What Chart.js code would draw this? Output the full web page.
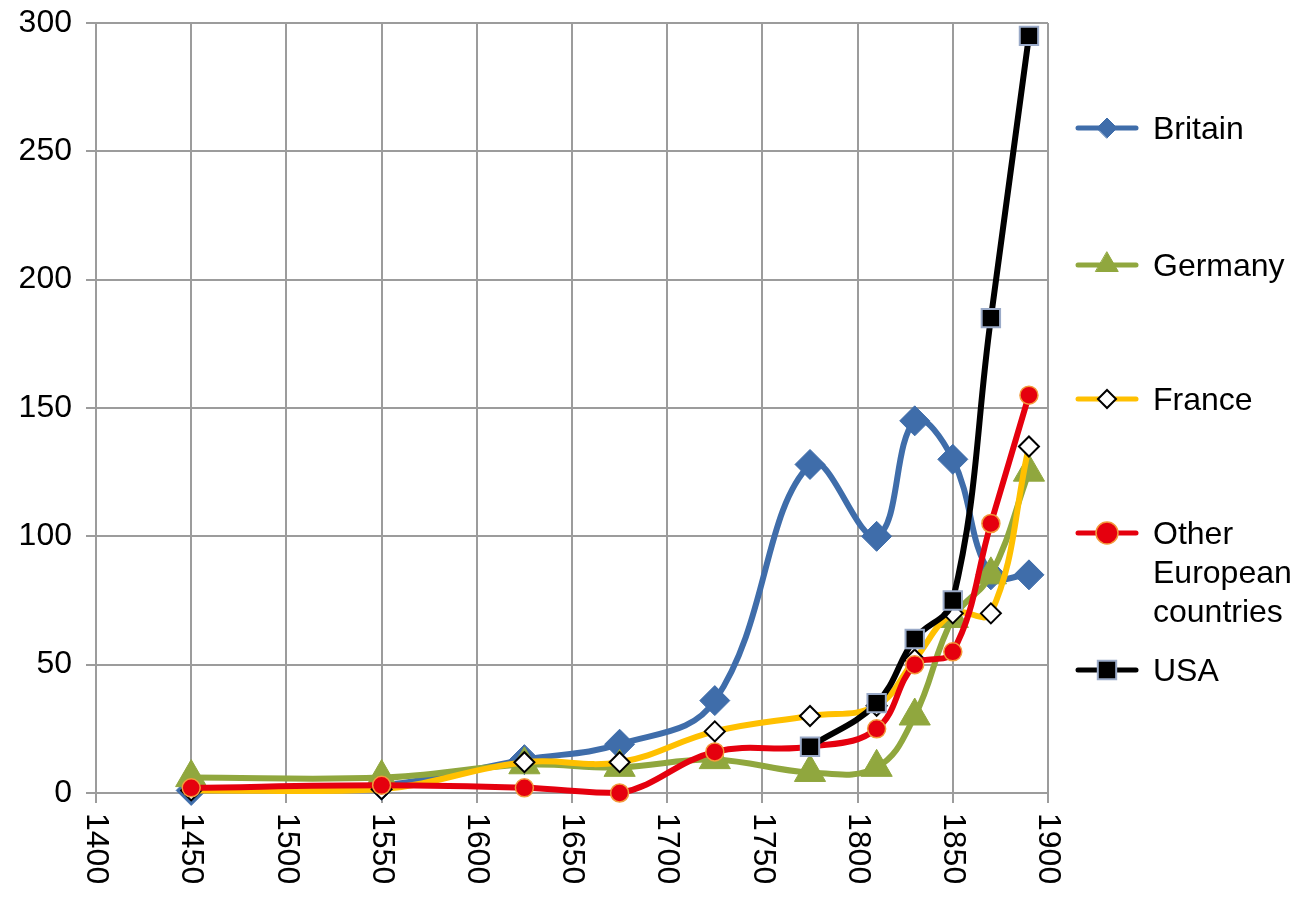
<!DOCTYPE html>
<html>
<head>
<meta charset="utf-8">
<title>Output by country, 1450-1890</title>
<script src="https://cdn.jsdelivr.net/npm/chart.js@4.4.1/dist/chart.umd.min.js"></script>
<style>
  html, body { margin: 0; padding: 0; background: #fff; }
  #chart { display: block; }
</style>
</head>
<body>
<canvas id="chart" width="1309" height="905"></canvas>
<script>
// --- data ---
const years   = [1450, 1550, 1625, 1675, 1725, 1775, 1810, 1830, 1850, 1870, 1890];
const britain = [1, 3, 13, 19, 36, 128, 100, 145, 130, 85, 85];
const germany = [6, 6, 11, 10, 13, 8, 10, 30, 68, 85, 125];
const france  = [1, 1.5, 12, 12, 24, 30, 34, 52, 70, 70, 135];
const otherEu = [2, 3, 2, 0, 16, 18, 25, 50, 55, 105, 155];
const usa     = [null, null, null, null, null, 18, 35, 60, 75, 185, 295];
const seriesNames = ['Britain', 'Germany', 'France', 'Other European countries', 'USA'];

const FONT = '"Liberation Sans", Arial, Helvetica, sans-serif';
const GRID = '#9c9c9c';

const toPoints = vals => years.map((x, i) => ({ x: x, y: vals[i] }));

// legend drawn on the right, line + marker like the spreadsheet legend
const sideLegend = {
  id: 'sideLegend',
  afterDraw(chart, args, opts) {
    const ctx = chart.ctx;
    ctx.save();
    ctx.font = opts.font;
    ctx.textAlign = 'left';
    ctx.textBaseline = 'middle';
    chart.data.datasets.forEach((ds, i) => {
      const y = opts.rows[i];
      ctx.strokeStyle = ds.borderColor;
      ctx.lineWidth = 5;
      ctx.lineCap = 'round';
      ctx.beginPath();
      ctx.moveTo(opts.lineX0, y);
      ctx.lineTo(opts.lineX1, y);
      ctx.stroke();

      ctx.fillStyle = ds.pointBackgroundColor;
      ctx.strokeStyle = ds.pointBorderColor;
      ctx.lineWidth = ds.pointBorderWidth;
      Chart.helpers.drawPoint(ctx, {
        pointStyle: ds.pointStyle,
        radius: opts.markerRadius[i],
        borderWidth: ds.pointBorderWidth,
        rotation: 0
      }, (opts.lineX0 + opts.lineX1) / 2, y);

      // simple word wrap
      const words = ds.label.split(' ');
      const lines = [];
      let cur = '';
      words.forEach(w => {
        const test = cur ? cur + ' ' + w : w;
        if (cur && ctx.measureText(test).width > opts.maxWidth) {
          lines.push(cur);
          cur = w;
        } else {
          cur = test;
        }
      });
      lines.push(cur);
      ctx.fillStyle = '#000';
      lines.forEach((ln, k) => ctx.fillText(ln, opts.textX, y + 2 + k * opts.lineHeight));
    });
    ctx.restore();
  }
};

// x tick labels turned a quarter clockwise (read top to bottom)
const xTickText = {
  id: 'xTickText',
  afterDraw(chart, args, opts) {
    const sc = chart.scales.x;
    const ctx = chart.ctx;
    ctx.save();
    ctx.font = opts.font;
    ctx.fillStyle = '#000';
    ctx.textAlign = 'left';
    ctx.textBaseline = 'middle';
    sc.ticks.forEach(t => {
      const px = sc.getPixelForValue(t.value);
      ctx.save();
      ctx.translate(px, sc.top + opts.gap);
      ctx.rotate(Math.PI / 2);
      ctx.fillText(t.label, 0, 0);
      ctx.restore();
    });
    ctx.restore();
  }
};

const common = { borderWidth: 6, tension: 0.4, clip: false, fill: false };

new Chart(document.getElementById('chart'), {
  type: 'line',
  data: {
    datasets: [
      { ...common, label: seriesNames[0], data: toPoints(britain), order: 5,
        borderColor: '#3F6DAA', pointStyle: 'rectRot', pointRadius: 15,
        pointBackgroundColor: '#3F6DAA', pointBorderColor: '#3F6DAA', pointBorderWidth: 1 },
      { ...common, label: seriesNames[1], data: toPoints(germany), order: 4,
        borderColor: '#90A73E', pointStyle: 'triangle', pointRadius: 18,
        pointBackgroundColor: '#90A73E', pointBorderColor: '#90A73E', pointBorderWidth: 1 },
      { ...common, label: seriesNames[2], data: toPoints(france), order: 3,
        borderColor: '#FFC000', pointStyle: 'rectRot', pointRadius: 10,
        pointBackgroundColor: '#FFFFFF', pointBorderColor: '#000000', pointBorderWidth: 2 },
      { ...common, label: seriesNames[3], data: toPoints(otherEu), order: 2,
        borderColor: '#E5000E', pointStyle: 'circle', pointRadius: 9,
        pointBackgroundColor: '#E5000E', pointBorderColor: '#F39A3C', pointBorderWidth: 1.5 },
      { ...common, label: seriesNames[4], data: toPoints(usa), order: 1,
        borderColor: '#000000', pointStyle: 'rect', pointRadius: 13,
        pointBackgroundColor: '#000000', pointBorderColor: '#9AAAC8', pointBorderWidth: 2 }
    ]
  },
  options: {
    responsive: false,
    animation: false,
    devicePixelRatio: 1,
    layout: { padding: { top: 23, right: 261, left: 0, bottom: 0 } },
    scales: {
      x: {
        type: 'linear', min: 1400, max: 1900,
        afterFit: s => { s.height = 112; s.paddingLeft = 0; s.paddingRight = 0; },
        ticks: { display: false, stepSize: 50, callback: v => String(v) },
        grid: { color: GRID, lineWidth: 2, tickLength: 10, tickColor: GRID },
        border: { color: GRID, width: 2 }
      },
      y: {
        type: 'linear', min: 0, max: 300,
        afterFit: s => { s.width = 96; s.paddingTop = 0; s.paddingBottom = 0; },
        ticks: { stepSize: 50, padding: 14, color: '#000', font: { family: FONT, size: 32 } },
        grid: { color: GRID, lineWidth: 2, tickLength: 10, tickColor: GRID },
        border: { color: GRID, width: 2 }
      }
    },
    plugins: {
      legend: { display: false },
      tooltip: { enabled: false },
      sideLegend: {
        font: '32px ' + FONT,
        rows: [128, 265, 399, 533, 670],
        markerRadius: [10, 13, 9, 11, 13],
        lineX0: 1078, lineX1: 1136, textX: 1153,
        maxWidth: 154, lineHeight: 39
      },
      xTickText: { font: '32px ' + FONT, gap: 20 }
    }
  },
  plugins: [sideLegend, xTickText]
});
</script>
</body>
</html>
